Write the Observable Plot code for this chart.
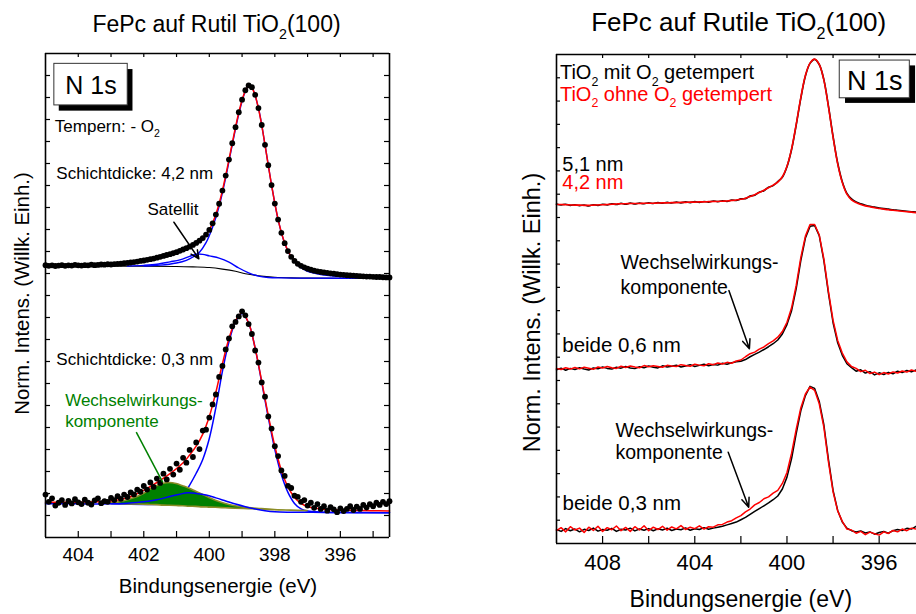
<!DOCTYPE html>
<html><head><meta charset="utf-8">
<script src="https://cdn.jsdelivr.net/npm/d3@7"></script>
<script src="https://cdn.jsdelivr.net/npm/@observablehq/plot@0.6"></script>
<style>
html,body{margin:0;padding:0;background:#fff;}
#wrap{position:relative;width:916px;height:614px;overflow:hidden;background:#fff;}
#wrap svg{position:absolute;top:0;}
</style></head><body><div id="wrap"></div>
<script>
const FONT = '"Liberation Sans", Arial, Helvetica, sans-serif';

// ---------- LEFT PANEL DATA (binding energy, eV) ----------
const eL = [405.0,404.9,404.8,404.7,404.6,404.5,404.4,404.3,404.2,404.1,
404.0,403.9,403.8,403.7,403.6,403.5,403.4,403.3,403.2,403.1,
403.0,402.9,402.8,402.7,402.6,402.5,402.4,402.3,402.2,402.1,
402.0,401.9,401.8,401.7,401.6,401.5,401.4,401.3,401.2,401.1,
401.0,400.9,400.8,400.7,400.6,400.5,400.4,400.3,400.2,400.1,
400.0,399.9,399.8,399.7,399.6,399.5,399.4,399.3,399.2,399.1,
399.0,398.9,398.8,398.7,398.6,398.5,398.4,398.3,398.2,398.1,
398.0,397.9,397.8,397.7,397.6,397.5,397.4,397.3,397.2,397.1,
397.0,396.9,396.8,396.7,396.6,396.5,396.4,396.3,396.2,396.1,
396.0,395.9,395.8,395.7,395.6,395.5,395.4,395.3,395.2,395.1,
395.0,394.9,394.8,394.7,394.6,394.5];

// 4,2 nm measured points
const dots42 = [12.38,12.35,12.37,12.34,12.36,12.38,12.35,12.37,12.36,12.39,
12.37,12.36,12.38,12.37,12.40,12.38,12.39,12.41,12.40,12.42,
12.41,12.43,12.44,12.45,12.47,12.48,12.50,12.52,12.54,12.57,
12.59,12.62,12.65,12.68,12.72,12.76,12.80,12.84,12.88,12.92,
12.97,13.03,13.09,13.15,13.22,13.30,13.39,13.49,13.61,13.77,
13.98,14.28,14.68,15.17,15.77,16.45,17.18,17.92,18.65,19.33,
19.90,20.33,20.55,20.47,20.12,19.52,18.75,17.85,16.92,16.02,
15.18,14.45,13.85,13.38,13.02,12.76,12.57,12.44,12.35,12.28,
12.22,12.17,12.13,12.10,12.07,12.05,12.03,12.01,11.99,11.97,
11.95,11.94,11.92,11.91,11.90,11.89,11.88,11.87,11.86,11.86,
11.85,11.84,11.84,11.83,11.82,11.82];

// 0,3 nm measured points
const dots03 = [1.95,1.62,1.78,1.45,1.58,1.70,1.48,1.66,1.55,1.74,
1.60,1.52,1.72,1.58,1.50,1.69,1.78,1.56,1.65,1.62,
1.80,1.70,1.88,1.76,1.95,1.84,2.05,1.96,2.18,2.08,
2.34,2.18,2.50,2.30,2.68,2.48,2.90,2.64,3.12,2.86,
3.36,3.08,3.62,3.40,3.98,3.66,4.32,4.02,4.86,4.90,
5.45,6.05,6.50,7.30,7.80,8.55,9.05,9.60,9.80,10.05,
10.28,10.10,9.70,9.25,8.50,7.95,7.05,6.40,5.50,4.95,
4.15,3.70,3.05,2.80,2.35,2.25,1.90,1.85,1.62,1.70,
1.45,1.58,1.35,1.52,1.30,1.42,1.22,1.38,1.28,1.15,
1.32,1.20,1.30,1.42,1.25,1.40,1.30,1.48,1.36,1.52,
1.42,1.58,1.48,1.62,1.52,1.65];

// 4,2 nm fit components
const eBg42 = [405,402,401,400.5,400.0,399.6,399.2,398.9,398.5,398.0,397.5,397.0,394.5];
const bg42  = [12.33,12.33,12.32,12.30,12.27,12.20,12.10,11.99,11.90,11.83,11.80,11.79,11.78];
const eSat42 = [402.5,402.0,401.6,401.2,400.9,400.6,400.4,400.2,400.0,399.7,399.4,399.1,398.8,398.5,398.2,397.8,397.0,394.5];
const sat42  = [12.34,12.37,12.42,12.53,12.62,12.78,12.88,12.87,12.80,12.70,12.52,12.25,12.03,11.88,11.82,11.80,11.79,11.78];
const eMain42 = [402.0,401.5,401.0,400.7,400.5,400.3,400.1,399.9,399.7,399.5,399.3,399.1,398.9,398.8,398.7,398.5,398.3,398.1,397.9,397.7,397.5,397.3,397.1,396.9,396.6,396.2,395.6,395.0,394.5];
const main42  = [12.34,12.38,12.48,12.60,12.75,12.97,13.40,14.10,15.05,16.35,17.85,19.25,20.28,20.52,20.45,19.52,17.85,16.02,14.45,13.38,12.74,12.38,12.18,12.05,11.95,11.88,11.83,11.80,11.79];

// 0,3 nm fit components
const eFit03 = [405.0,404.0,403.5,403.0,402.5,402.0,401.6,401.2,400.8,400.6,400.4,400.2,400.0,399.8,399.6,399.4,399.2,399.0,398.8,398.6,398.4,398.2,398.0,397.8,397.6,397.4,397.2,397.0,396.6,396.0,395.0,394.5];
const fit03  = [1.60,1.60,1.62,1.66,1.80,2.15,2.50,2.90,3.40,3.75,4.15,4.70,5.50,6.60,7.90,9.05,9.85,10.20,9.75,8.60,7.10,5.55,4.15,3.05,2.30,1.82,1.55,1.40,1.30,1.25,1.22,1.20];
const eMain03 = [403.0,402.0,401.4,401.0,400.8,400.6,400.4,400.2,400.0,399.8,399.6,399.4,399.2,399.0,398.8,398.6,398.4,398.2,398.0,397.8,397.6,397.4,397.2,397.0,396.5,396.0,394.5];
const main03  = [1.53,1.50,1.52,1.62,1.90,2.38,2.92,3.55,4.50,5.90,7.55,8.90,9.80,10.18,9.75,8.60,7.05,5.45,4.00,2.85,2.05,1.55,1.30,1.20,1.15,1.14,1.13];
const eHump03 = [405,404,403,402.5,402.0,401.6,401.2,400.9,400.65,400.4,400.1,399.8,399.5,399.2,398.9,398.6,398.3,398.0,397.5,396.5,395.5,394.5];
const hump03  = [1.53,1.53,1.53,1.56,1.62,1.72,1.86,1.97,2.03,2.00,1.93,1.80,1.66,1.52,1.40,1.30,1.22,1.17,1.15,1.14,1.13,1.13];
const eWW03   = [403.2,402.9,402.6,402.3,402.0,401.8,401.6,401.4,401.2,401.0,400.8,400.6,400.4,400.2,400.0,399.8,399.5,399.2,398.8,398.4,398.0,397.5,397.0];
const ww03Top = [1.54,1.57,1.65,1.78,1.98,2.17,2.33,2.44,2.48,2.43,2.33,2.22,2.08,1.94,1.80,1.67,1.52,1.42,1.34,1.29,1.25,1.22,1.20];
const ww03Base= [1.53,1.53,1.51,1.50,1.49,1.48,1.47,1.45,1.44,1.43,1.42,1.40,1.39,1.37,1.36,1.35,1.33,1.31,1.29,1.27,1.24,1.22,1.20];

// ---------- RIGHT PANEL DATA ----------
const eR = [410.0,409.8,409.6,409.4,409.2,409.0,408.8,408.6,408.4,408.2,
408.0,407.8,407.6,407.4,407.2,407.0,406.8,406.6,406.4,406.2,
406.0,405.8,405.6,405.4,405.2,405.0,404.8,404.6,404.4,404.2,
404.0,403.8,403.6,403.4,403.2,403.0,402.8,402.6,402.4,402.2,
402.0,401.8,401.6,401.4,401.2,401.0,400.8,400.6,400.4,400.2,
400.0,399.8,399.6,399.4,399.2,399.0,398.8,398.6,398.4,398.2,
398.0,397.8,397.6,397.4,397.2,397.0,396.8,396.6,396.4,396.2,
396.0,395.8,395.6,395.4,395.2,395.0,394.8,394.6,394.4];

const topMit = [14.58,14.54,14.57,14.52,14.55,14.51,14.54,14.50,14.55,14.52,
14.57,14.54,14.59,14.56,14.61,14.57,14.62,14.58,14.62,14.59,
14.63,14.60,14.64,14.61,14.65,14.62,14.66,14.63,14.67,14.64,
14.68,14.65,14.69,14.66,14.71,14.68,14.72,14.69,14.75,14.73,
14.80,14.81,14.92,14.96,15.09,15.15,15.30,15.37,15.54,15.73,
16.18,16.92,17.97,19.12,20.08,20.62,20.79,20.57,19.92,18.78,
17.48,16.34,15.54,15.04,14.80,14.67,14.59,14.53,14.48,14.45,
14.41,14.38,14.36,14.33,14.31,14.29,14.27,14.25,14.23];
const topOhne = [14.56,14.56,14.55,14.54,14.53,14.53,14.52,14.52,14.53,14.54,
14.55,14.56,14.57,14.58,14.59,14.59,14.60,14.60,14.60,14.61,
14.61,14.61,14.62,14.63,14.63,14.64,14.64,14.65,14.65,14.66,
14.66,14.67,14.67,14.68,14.69,14.69,14.70,14.71,14.73,14.75,
14.78,14.83,14.90,14.98,15.07,15.17,15.28,15.39,15.52,15.75,
16.20,16.95,18.00,19.15,20.10,20.63,20.80,20.58,19.90,18.75,
17.45,16.30,15.50,15.00,14.76,14.64,14.56,14.50,14.46,14.42,
14.39,14.36,14.33,14.31,14.29,14.27,14.25,14.23,14.21];

const midMit = [7.46,7.53,7.44,7.52,7.47,7.55,7.49,7.45,7.54,7.50,
7.58,7.52,7.49,7.57,7.53,7.60,7.54,7.51,7.59,7.55,
7.62,7.57,7.54,7.63,7.58,7.61,7.66,7.58,7.62,7.68,
7.60,7.65,7.70,7.63,7.69,7.66,7.74,7.70,7.76,7.80,
7.83,7.90,8.02,8.12,8.22,8.33,8.45,8.58,8.74,9.00,
9.40,10.00,10.95,12.15,13.12,13.62,13.66,13.22,12.15,10.74,
9.48,8.62,8.08,7.72,7.55,7.40,7.46,7.32,7.38,7.24,
7.33,7.26,7.35,7.29,7.40,7.34,7.43,7.37,7.45];
const midOhne = [7.52,7.47,7.55,7.49,7.56,7.50,7.57,7.53,7.48,7.58,
7.54,7.60,7.55,7.52,7.61,7.56,7.62,7.58,7.55,7.64,
7.59,7.63,7.60,7.57,7.65,7.62,7.60,7.68,7.64,7.61,
7.70,7.66,7.63,7.72,7.68,7.75,7.71,7.78,7.74,7.84,
7.88,8.02,8.15,8.22,8.35,8.44,8.58,8.70,8.86,9.10,
9.50,10.12,11.08,12.28,13.20,13.70,13.70,13.25,12.22,10.82,
9.58,8.72,8.18,7.80,7.60,7.52,7.38,7.44,7.30,7.36,
7.25,7.34,7.28,7.37,7.32,7.41,7.36,7.45,7.40];

const botMit = [0.60,0.52,0.64,0.55,0.62,0.50,0.61,0.56,0.66,0.53,
0.60,0.57,0.65,0.52,0.61,0.58,0.66,0.54,0.62,0.57,
0.64,0.55,0.63,0.58,0.66,0.56,0.62,0.59,0.67,0.57,
0.63,0.60,0.68,0.61,0.66,0.70,0.74,0.80,0.86,0.92,
1.02,1.12,1.25,1.38,1.50,1.62,1.74,1.88,2.04,2.34,
2.85,3.65,4.72,5.70,6.35,6.75,6.66,6.10,5.10,3.60,
2.28,1.42,0.92,0.66,0.55,0.49,0.54,0.45,0.50,0.40,
0.47,0.52,0.44,0.55,0.60,0.56,0.65,0.62,0.74];
const botOhne = [0.55,0.68,0.50,0.72,0.58,0.66,0.47,0.70,0.56,0.74,
0.52,0.68,0.59,0.75,0.55,0.69,0.52,0.72,0.58,0.76,
0.55,0.70,0.60,0.74,0.57,0.71,0.63,0.77,0.60,0.70,
0.64,0.76,0.62,0.72,0.70,0.80,0.82,0.92,0.98,1.10,
1.20,1.36,1.48,1.66,1.76,1.92,2.00,2.16,2.28,2.58,
3.05,3.88,4.90,5.82,6.42,6.72,6.58,6.00,5.00,3.50,
2.22,1.40,0.95,0.62,0.58,0.44,0.52,0.38,0.49,0.42,
0.36,0.50,0.43,0.56,0.50,0.62,0.55,0.66,0.62];

// tick values
const xTicksL = [404,403,402,401,400,399,398,397,396,395];
const xLabelsL = [404,402,400,398,396];
const yTicksL = d3.range(1, 22);
const xTicksR = [408,406,404,402,400,398,396];
const xLabelsR = [408,404,400,396];
const yTicksR = d3.range(1, 21);

// ---------- helpers ----------
const zip = (xs, ys) => xs.map((x, i) => ({x, y: ys[i]}));
const CR = "catmull-rom";

function rich(svg, x, y, parts, {size = 16, fill = "black", anchor = "start", rotate = 0, sub = 0.62, shift = 0.32} = {}) {
  const t = d3.select(svg).append("text")
    .attr("transform", `translate(${x},${y})` + (rotate ? ` rotate(${rotate})` : ""))
    .attr("font-family", FONT).attr("font-size", size).attr("fill", fill).attr("text-anchor", anchor);
  let down = false;
  for (const p of parts) {
    const isSub = Array.isArray(p);
    const ts = t.append("tspan").text(isSub ? p[0] : p);
    if (isSub) { ts.attr("font-size", size * sub); if (!down) { ts.attr("dy", size * shift); down = true; } }
    else if (down) { ts.attr("dy", -size * shift); down = false; }
  }
}

const wrap = document.getElementById("wrap");

// ---------- LEFT PLOT ----------
const d42 = zip(eL, dots42), d03 = zip(eL, dots03);
const ww = eWW03.map((x, i) => ({x, y1: ww03Base[i], y2: ww03Top[i]}));
const boxL = {x1: 404.73, x2: 402.49, y1: 19.64, y2: 21.53};
const shL = {x1: 404.58, x2: 402.33, y1: 19.38, y2: 21.27};

const left = Plot.plot({
  width: 460, height: 614,
  marginLeft: 45, marginRight: 71, marginTop: 53, marginBottom: 77,
  x: {domain: [405, 394.5]},
  y: {domain: [0, 22], axis: null},
  style: {fontFamily: FONT, background: "transparent"},
  marks: [
    // 4,2 nm
    Plot.line(zip(eBg42, bg42), {x: "x", y: "y", stroke: "black", strokeWidth: 1.1, curve: CR}),
    Plot.line(zip(eSat42, sat42), {x: "x", y: "y", stroke: "#0000ff", strokeWidth: 1.4, curve: CR}),
    Plot.line(zip(eMain42, main42), {x: "x", y: "y", stroke: "#0000ff", strokeWidth: 1.4, curve: CR}),
    Plot.line(d42, {x: "x", y: "y", stroke: "#ff0000", strokeWidth: 1.5}),
    Plot.dot(d42, {x: "x", y: "y", r: 2.9, fill: "black"}),
    // 0,3 nm
    Plot.line(zip(eMain03, main03), {x: "x", y: "y", stroke: "#0000ff", strokeWidth: 1.5, curve: CR}),
    Plot.areaY(ww, {x: "x", y1: "y1", y2: "y2", fill: "#008000", stroke: "#8c8c26", strokeWidth: 1.6, curve: CR}),
    Plot.line(zip(eHump03, hump03), {x: "x", y: "y", stroke: "#0000ff", strokeWidth: 1.5, curve: CR}),
    Plot.line(zip(eFit03, fit03), {x: "x", y: "y", stroke: "#ff0000", strokeWidth: 1.5, curve: CR}),
    Plot.dot(d03, {x: "x", y: "y", r: 2.9, fill: "black"}),
    // frame & ticks
    Plot.tickX(xTicksL, {x: d => d, insetTop: 478, stroke: "black", strokeWidth: 1.2}),
    Plot.tickX(xTicksL, {x: d => d, insetBottom: 480, stroke: "black", strokeWidth: 1.2}),
    Plot.tickY(yTicksL, {y: d => d, insetRight: 339, stroke: "black", strokeWidth: 1.2}),
    Plot.tickY(yTicksL, {y: d => d, insetLeft: 339, stroke: "black", strokeWidth: 1.2}),
    Plot.ruleX([405, 394.5], {stroke: "black", strokeWidth: 1.6}),
    Plot.ruleY([0, 22], {stroke: "black", strokeWidth: 1.6}),
    Plot.axisX(xLabelsL, {tickSize: 0, tickPadding: 9.5, fontSize: 19, label: null}),
    // N 1s box
    Plot.rect([shL], {x1: "x1", x2: "x2", y1: "y1", y2: "y2", fill: "black"}),
    Plot.rect([boxL], {x1: "x1", x2: "x2", y1: "y1", y2: "y2", fill: "white", stroke: "#333", strokeWidth: 1}),
    Plot.text(["N 1s"], {x: 403.61, y: 20.17, fontSize: 25, lineAnchor: "bottom", textAnchor: "middle"}),
    // annotations
    Plot.text(["Schichtdicke: 4,2 nm"], {x: 404.67, y: 16.3, fontSize: 17, lineAnchor: "bottom", textAnchor: "start"}),
    Plot.text(["Satellit"], {x: 401.11, y: 14.64, fontSize: 17, lineAnchor: "bottom", textAnchor: "middle"}),
    Plot.arrow([{x1: 401.08, y1: 14.33, x2: 400.32, y2: 12.67}], {x1: "x1", y1: "y1", x2: "x2", y2: "y2", stroke: "black", strokeWidth: 1.5, headLength: 9, headAngle: 50}),
    Plot.text(["Schichtdicke: 0,3 nm"], {x: 404.67, y: 7.82, fontSize: 17, lineAnchor: "bottom", textAnchor: "start"}),
    Plot.text(["Wechselwirkungs-"], {x: 404.4, y: 6.0, fontSize: 17, lineAnchor: "bottom", textAnchor: "start", fill: "#008000"}),
    Plot.text(["komponente"], {x: 404.4, y: 5.02, fontSize: 17, lineAnchor: "bottom", textAnchor: "start", fill: "#008000"}),
    Plot.link([{x1: 402.23, y1: 4.79, x2: 401.42, y2: 2.51}], {x1: "x1", y1: "y1", x2: "x2", y2: "y2", stroke: "#008000", strokeWidth: 1.5})
  ]
});
left.style.left = "0px";
wrap.appendChild(left);
{
  const sx = left.scale("x"), sy = left.scale("y");
  rich(left, sx.apply(404.70), sy.apply(18.42), ["Tempern: - O", ["2"]], {size: 17});
  rich(left, 216.5, 31.5, ["FePc auf Rutil TiO", ["2"], "(100)"], {size: 23, anchor: "middle"});
  rich(left, 218, 593, ["Bindungsenergie (eV)"], {size: 20.5, anchor: "middle"});
  rich(left, 28.5, 293.5, ["Norm. Intens. (Willk. Einh.)"], {size: 20.4, anchor: "middle", rotate: -90});
}

// ---------- RIGHT PLOT ----------
const boxR = {x1: 397.71, x2: 394.67, y1: 19.12, y2: 20.74};
const shR = {x1: 397.46, x2: 394.42, y1: 18.9, y2: 20.51};
const right = Plot.plot({
  width: 416, height: 614,
  marginLeft: 56, marginRight: 0, marginTop: 54, marginBottom: 71,
  x: {domain: [410, 394.38]},
  y: {domain: [0, 21], axis: null},
  style: {fontFamily: FONT, background: "transparent"},
  marks: [
    Plot.line(zip(eR, topMit), {x: "x", y: "y", stroke: "black", strokeWidth: 1.6, curve: CR}),
    Plot.line(zip(eR, midMit), {x: "x", y: "y", stroke: "black", strokeWidth: 1.5}),
    Plot.line(zip(eR, botMit), {x: "x", y: "y", stroke: "black", strokeWidth: 1.5}),
    Plot.line(zip(eR, topOhne), {x: "x", y: "y", stroke: "#ff0000", strokeWidth: 1.6, curve: CR}),
    Plot.line(zip(eR, midOhne), {x: "x", y: "y", stroke: "#ff0000", strokeWidth: 1.5}),
    Plot.line(zip(eR, botOhne), {x: "x", y: "y", stroke: "#ff0000", strokeWidth: 1.5}),
    Plot.tickX(xTicksR, {x: d => d, insetTop: 482, stroke: "black", strokeWidth: 1.2}),
    Plot.tickX(xTicksR, {x: d => d, insetBottom: 485, stroke: "black", strokeWidth: 1.2}),
    Plot.tickY(yTicksR, {y: d => d, insetRight: 356, stroke: "black", strokeWidth: 1.2}),
    Plot.ruleX([410], {stroke: "black", strokeWidth: 1.6}),
    Plot.ruleY([0, 21], {stroke: "black", strokeWidth: 1.6}),
    Plot.axisX(xLabelsR, {tickSize: 0, tickPadding: 11, fontSize: 22, label: null}),
    Plot.rect([shR], {x1: "x1", x2: "x2", y1: "y1", y2: "y2", fill: "black"}),
    Plot.rect([boxR], {x1: "x1", x2: "x2", y1: "y1", y2: "y2", fill: "white", stroke: "#333", strokeWidth: 1}),
    Plot.text(["N 1s"], {x: 396.19, y: 19.48, fontSize: 27, lineAnchor: "bottom", textAnchor: "middle"}),
    Plot.text(["5,1 nm"], {x: 409.75, y: 15.99, fontSize: 20, lineAnchor: "bottom", textAnchor: "start"}),
    Plot.text(["4,2 nm"], {x: 409.75, y: 15.23, fontSize: 20, lineAnchor: "bottom", textAnchor: "start", fill: "#ff0000"}),
    Plot.text(["Wechselwirkungs-"], {x: 407.22, y: 11.8, fontSize: 19.5, lineAnchor: "bottom", textAnchor: "start"}),
    Plot.text(["komponente"], {x: 407.22, y: 10.72, fontSize: 19.5, lineAnchor: "bottom", textAnchor: "start"}),
    Plot.arrow([{x1: 402.52, y1: 10.86, x2: 401.63, y2: 8.36}], {x1: "x1", y1: "y1", x2: "x2", y2: "y2", stroke: "black", strokeWidth: 1.5, headLength: 10, headAngle: 45}),
    Plot.text(["beide 0,6 nm"], {x: 409.75, y: 8.22, fontSize: 20.5, lineAnchor: "bottom", textAnchor: "start"}),
    Plot.text(["Wechselwirkungs-"], {x: 407.44, y: 4.57, fontSize: 19.5, lineAnchor: "bottom", textAnchor: "start"}),
    Plot.text(["komponente"], {x: 407.44, y: 3.64, fontSize: 19.5, lineAnchor: "bottom", textAnchor: "start"}),
    Plot.arrow([{x1: 402.55, y1: 3.92, x2: 401.66, y2: 1.56}], {x1: "x1", y1: "y1", x2: "x2", y2: "y2", stroke: "black", strokeWidth: 1.5, headLength: 10, headAngle: 45}),
    Plot.text(["beide 0,3 nm"], {x: 409.74, y: 1.42, fontSize: 20.5, lineAnchor: "bottom", textAnchor: "start"})
  ]
});
right.style.left = "500px";
wrap.appendChild(right);
{
  const sx = right.scale("x"), sy = right.scale("y");
  rich(right, sx.apply(409.83), sy.apply(19.91), ["TiO", ["2"], " mit O", ["2"], " getempert"], {size: 20});
  rich(right, sx.apply(409.83), sy.apply(18.99), ["TiO", ["2"], " ohne O", ["2"], " getempert"], {size: 20, fill: "#ff0000"});
  rich(right, 238.7, 30.7, ["FePc auf Rutile TiO", ["2"], "(100)"], {size: 26, anchor: "middle"});
  rich(right, 240.8, 606.7, ["Bindungsenergie (eV)"], {size: 23, anchor: "middle"});
  rich(right, 40, 312.5, ["Norm. Intens. (Willk. Einh.)"], {size: 23.5, anchor: "middle", rotate: -90});
}
</script></body></html>
